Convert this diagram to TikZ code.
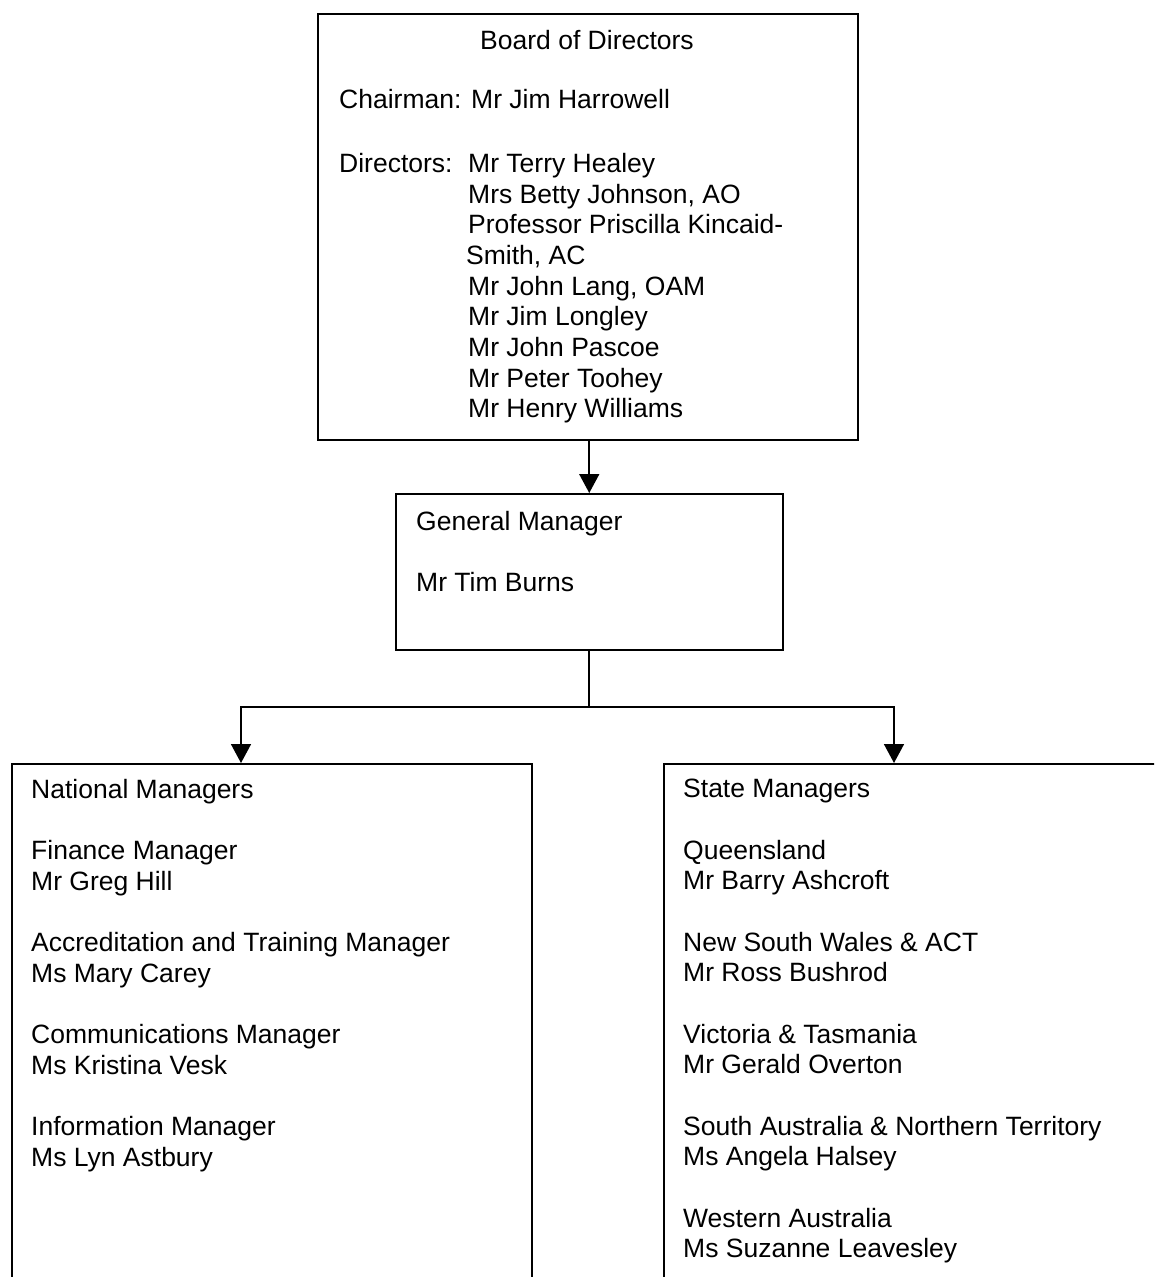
\documentclass[tikz,border=0pt]{standalone}
\usepackage{fontspec}
\setmainfont{Liberation Sans}
\usetikzlibrary{arrows.meta}

\tikzset{
	box/.style={draw, line width=1.5pt, rectangle, inner sep=0pt, anchor=north west},
	txt/.style={anchor=north west, inner sep=0pt, align=left, font=\fontsize{26.5}{30.67}\selectfont},
	link/.style={line width=1.6pt},
	arr/.style={line width=1.6pt, -{Triangle[length=19pt,width=20pt]}},
}

\begin{document}
\begin{tikzpicture}[x=1pt, y=-1pt]
		\useasboundingbox (0,0) rectangle (1154,1277);
		\clip (0,0) rectangle (1154,1277);
		% boxes
		\node (board) [box, minimum width=540, minimum height=426] at (317,13) {};
		\node (gm) [box, minimum width=387, minimum height=156] at (395,493) {};
		\node (natl) [box, minimum width=520, minimum height=560] at (11,763) {};
		\node (state) [box, minimum width=540, minimum height=560] at (663,763) {};
		% texts
		\node (boardtitle) [txt, anchor=base] at (587,49) {Board of Directors};
		\node (chair) [txt, anchor=base west] at (339,108) {Chairman: Mr Jim Harrowell};
		\node (dirs) [txt, anchor=base west] at (339,172) {Directors:};
		\node (boardnames) [txt] at (468,153)
		{Mr Terry Healey\\ Mrs Betty Johnson, AO\\ Professor Priscilla Kincaid-\\
			\hspace*{-2pt}Smith, AC\\ Mr John Lang, OAM\\ Mr Jim Longley\\ Mr John Pascoe\\
			Mr Peter Toohey\\ Mr Henry Williams};
		\node (gmtxt) [txt] at (416,511) {General Manager\\[30.67pt]Mr Tim Burns};
		\node (natltxt) [txt] at (31,779)
		{National Managers\\[30.67pt]
			Finance Manager\\ Mr Greg Hill\\[30.67pt]
			Accreditation and Training Manager\\ Ms Mary Carey\\[30.67pt]
			Communications Manager\\ Ms Kristina Vesk\\[30.67pt]
			Information Manager\\ Ms Lyn Astbury};
		\node (statetxt) [txt] at (683,779)
		{State Managers\\[30.67pt]
			Queensland\\ Mr Barry Ashcroft\\[30.67pt]
			New South Wales \& ACT\\ Mr Ross Bushrod\\[30.67pt]
			Victoria \& Tasmania\\ Mr Gerald Overton\\[30.67pt]
			South Australia \& Northern Territory\\ Ms Angela Halsey\\[30.67pt]
			Western Australia\\ Ms Suzanne Leavesley};
		% connectors
		\coordinate (split) at ([yshift=-56.5pt]gm.south);
		\coordinate (natlin) at (241,763);
		\coordinate (statein) at (894,763);
		\draw [arr] (gm.north |- board.south) -- (gm.north);
		\draw [link] (gm.south) -- (split);
		\draw [arr] (split) -| (natlin);
		\draw [arr] (split) -| (statein);
\end{tikzpicture}
\end{document}
